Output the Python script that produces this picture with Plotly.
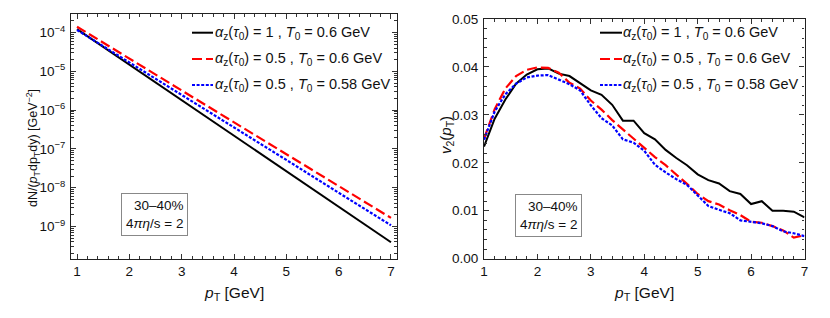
import plotly.graph_objects as go

# page body has an 8px margin: draw the figure 8px smaller and shift every pixel coordinate
OFF = 8
W, H = 830 - OFF, 318 - OFF

# ---------------- data ----------------
pt_spec = [1, 2, 3, 4, 5, 6, 7]
spec_a1_T06 = [1.23e-4, 1.50e-5, 1.82e-6, 2.20e-7, 2.65e-8, 3.20e-9, 3.90e-10]
spec_a05_T06 = [1.42e-4, 2.14e-5, 3.24e-6, 4.90e-7, 7.40e-8, 1.12e-8, 1.66e-9]
spec_a05_T058 = [1.17e-4, 1.72e-5, 2.50e-6, 3.62e-7, 5.20e-8, 7.40e-9, 1.07e-9]

pt_v2 = [1.0, 1.2, 1.4, 1.6, 1.8, 2.0, 2.2, 2.4, 2.6, 2.8, 3.0, 3.2, 3.4, 3.6, 3.8, 4.0,
         4.2, 4.4, 4.6, 4.8, 5.0, 5.2, 5.4, 5.6, 5.8, 6.0, 6.2, 6.4, 6.6, 6.8, 7.0]
v2_a1_T06 = [0.0234, 0.0292, 0.0332, 0.0365, 0.0384, 0.0395, 0.0397, 0.0386, 0.0381, 0.0366,
             0.0351, 0.0342, 0.0321, 0.0288, 0.0288, 0.0262, 0.0249, 0.0227, 0.0210, 0.0195,
             0.0176, 0.0164, 0.0157, 0.0141, 0.0135, 0.0114, 0.0120, 0.0100, 0.0100, 0.0098, 0.0086]
v2_a05_T06 = [0.0250, 0.0312, 0.0355, 0.0381, 0.0394, 0.0399, 0.0398, 0.0388, 0.0367, 0.0355,
              0.0330, 0.0311, 0.0289, 0.0270, 0.0249, 0.0231, 0.0212, 0.0195, 0.0176, 0.0156,
              0.0135, 0.0120, 0.0113, 0.0101, 0.0091, 0.0077, 0.0075, 0.0068, 0.0059, 0.0044, 0.0049]
v2_a05_T058 = [0.0248, 0.0307, 0.0343, 0.0365, 0.0378, 0.0382, 0.0383, 0.0374, 0.0364, 0.0351,
               0.0320, 0.0293, 0.0278, 0.0249, 0.0242, 0.0225, 0.0196, 0.0180, 0.0166, 0.0154,
               0.0133, 0.0110, 0.0102, 0.0095, 0.0080, 0.0077, 0.0074, 0.0068, 0.0057, 0.0053, 0.0047]

series_labels = [
    "<i>α</i><sub>z</sub>(<i>τ</i><sub>0</sub>) = 1 , <i>T</i><sub>0</sub> = 0.6 GeV",
    "<i>α</i><sub>z</sub>(<i>τ</i><sub>0</sub>) = 0.5 , <i>T</i><sub>0</sub> = 0.6 GeV",
    "<i>α</i><sub>z</sub>(<i>τ</i><sub>0</sub>) = 0.5 , <i>T</i><sub>0</sub> = 0.58 GeV",
]
box_text = "30–40%<br>4<i>πη</i>/s = 2"
log_tick_vals = [1e-9, 1e-8, 1e-7, 1e-6, 1e-5, 1e-4]
log_tick_text = ["10<sup>−9</sup>", "10<sup>−8</sup>", "10<sup>−7</sup>",
                 "10<sup>−6</sup>", "10<sup>−5</sup>", "10<sup>−4</sup>"]

# ---------------- styles ----------------
styles = [
    dict(color="#000000", width=2, dash="solid"),
    dict(color="#ff0000", width=2.2, dash="10px,4px"),
    dict(color="#0000ff", width=2.2, dash="3px,1.6px"),
]
FONT = "Liberation Sans, Arial, sans-serif"

fig = go.Figure()
for ys, st, lab in zip([spec_a1_T06, spec_a05_T06, spec_a05_T058], styles, series_labels):
    fig.add_trace(go.Scatter(x=pt_spec, y=ys, mode="lines", line=st, name=lab,
                             showlegend=False, xaxis="x", yaxis="y"))
for ys, st, lab in zip([v2_a1_T06, v2_a05_T06, v2_a05_T058], styles, series_labels):
    fig.add_trace(go.Scatter(x=pt_v2, y=ys, mode="lines", line=st, name=lab,
                             showlegend=False, xaxis="x2", yaxis="y2"))


def px(x):
    return (x - OFF) / W


def py(y):
    return 1 - (y - OFF) / H


axis_common = dict(showline=True, linecolor="#222", linewidth=1.2, mirror="allticks",
                   ticks="inside", ticklen=5, tickwidth=1, tickcolor="#333",
                   showgrid=False, zeroline=False,
                   tickfont=dict(family=FONT, size=13.5, color="#111"))

fig.update_layout(
    width=W, height=H,
    margin=dict(l=0, r=0, t=0, b=0),
    paper_bgcolor="white", plot_bgcolor="white",
    font=dict(family=FONT, size=14, color="#111"),
    xaxis=dict(domain=[px(71), px(397)], range=[0.885, 7.115], dtick=1, tick0=1,
               anchor="y", automargin=False,
               minor=dict(ticks="inside", ticklen=2.5, dtick=0.2, tick0=1, tickcolor="#333"),
               **axis_common),
    yaxis=dict(domain=[py(259), py(14)], type="log", range=[-9.84, -3.52],
               tickvals=log_tick_vals, ticktext=log_tick_text, anchor="x", automargin=False,
               minor=dict(ticks="inside", ticklen=2.5, tickcolor="#333",
                          tickvals=[k * 10.0 ** e for e in range(-10, -3) for k in range(2, 10)]),
               **axis_common),
    xaxis2=dict(domain=[px(484), px(804.5)], range=[1, 7], dtick=1, tick0=1,
                anchor="y2", automargin=False,
                minor=dict(ticks="inside", ticklen=2.5, dtick=0.2, tick0=1, tickcolor="#333"),
                **axis_common),
    yaxis2=dict(domain=[py(258.7), py(19)], range=[0, 0.05], dtick=0.01, tick0=0,
                tickformat=".2f", anchor="x2", automargin=False,
                minor=dict(ticks="inside", ticklen=2.5, dtick=0.002, tick0=0, tickcolor="#333"),
                **axis_common),
)
fig.update_yaxes(ticklabelstandoff=2)

annotations = []
shapes = []
rows_y = [32.7, 59, 85]
for (lx0, lx1, tx) in [(192, 213, 213), (600, 622, 621)]:
    for st, lab, ry in zip(styles, series_labels, rows_y):
        shapes.append(dict(type="line", xref="paper", yref="paper",
                           x0=px(lx0), x1=px(lx1), y0=py(ry), y1=py(ry),
                           line=dict(color=st["color"], width=st["width"], dash=st["dash"])))
        annotations.append(dict(text=lab, xref="paper", yref="paper", x=px(tx), y=py(ry),
                                xanchor="left", yanchor="middle", showarrow=False,
                                font=dict(family=FONT, size=14.5, color="#111")))

for cx, cy in [(154.5, 214.5), (548, 215.5)]:
    annotations.append(dict(text=box_text, xref="paper", yref="paper", x=px(cx), y=py(cy),
                            xanchor="center", yanchor="middle", showarrow=False, align="right",
                            bordercolor="#888", borderwidth=1, borderpad=4, bgcolor="white",
                            font=dict(family=FONT, size=13.5, color="#111")))

# axis titles
annotations += [
    dict(text="<i>p</i><sub>T</sub> [GeV]", xref="paper", yref="paper", x=px(234), y=py(293),
         xanchor="center", yanchor="middle", showarrow=False, font=dict(family=FONT, size=15.5)),
    dict(text="<i>p</i><sub>T</sub> [GeV]", xref="paper", yref="paper", x=px(644), y=py(293),
         xanchor="center", yanchor="middle", showarrow=False, font=dict(family=FONT, size=15.5)),
    dict(text="dN/(<i>p</i><sub>T</sub>dp<sub>T</sub>dy) [GeV<sup>−2</sup>]", xref="paper",
         yref="paper", x=px(33), y=py(148), xanchor="center", yanchor="middle", textangle=-90,
         showarrow=False, font=dict(family=FONT, size=12.5)),
    dict(text="<i>v</i><sub>2</sub>(<i>p</i><sub>T</sub>)", xref="paper", yref="paper",
         x=px(446), y=py(135), xanchor="center", yanchor="middle", textangle=-90,
         showarrow=False, font=dict(family=FONT, size=15)),
]

fig.update_layout(annotations=annotations, shapes=shapes)
fig.write_html("out.html")
